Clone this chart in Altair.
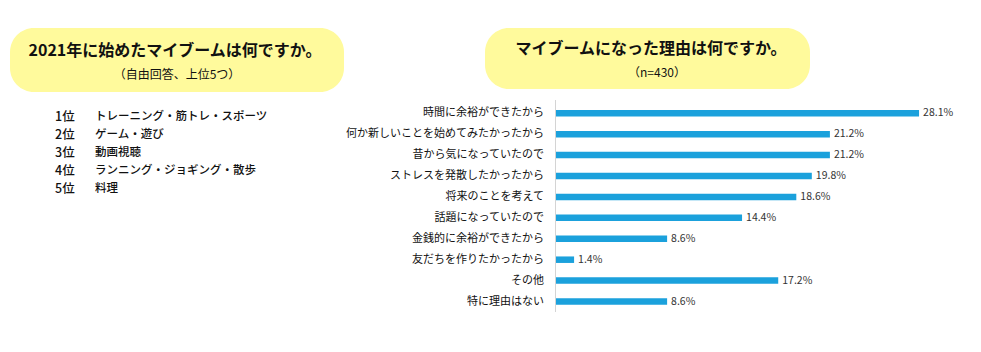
import altair as alt
import pandas as pd

FONT = "Noto Sans CJK JP"

# ---- data ----
title_left = "2021年に始めたマイブームは何ですか。"
sub_left = "（自由回答、上位5つ）"
title_right = "マイブームになった理由は何ですか。"
sub_right = "（n=430）"

ranks = ["1位", "2位", "3位", "4位", "5位"]
items = [
    "トレーニング・筋トレ・スポーツ",
    "ゲーム・遊び",
    "動画視聴",
    "ランニング・ジョギング・散歩",
    "料理",
]

reasons = [
    "時間に余裕ができたから",
    "何か新しいことを始めてみたかったから",
    "昔から気になっていたので",
    "ストレスを発散したかったから",
    "将来のことを考えて",
    "話題になっていたので",
    "金銭的に余裕ができたから",
    "友だちを作りたかったから",
    "その他",
    "特に理由はない",
]
percents = [28.1, 21.2, 21.2, 19.8, 18.6, 14.4, 8.6, 1.4, 17.2, 8.6]

rank_df = pd.DataFrame({"rank": ranks, "item": items})
bar_df = pd.DataFrame({"reason": reasons, "pct": percents})
bar_df["label"] = [f"{v:.1f}%" for v in percents]

one = alt.Data(values=[{}])
YELLOW = "#fffa9c"
TXT = "#111111"

# ---- decorative boxes & headings ----
box_left = alt.Chart(one).mark_rect(cornerRadius=24, color=YELLOW).encode(
    x=alt.value(10), x2=alt.value(344), y=alt.value(28), y2=alt.value(92)
)
box_right = alt.Chart(one).mark_rect(cornerRadius=24, color=YELLOW).encode(
    x=alt.value(485), x2=alt.value(810), y=alt.value(28), y2=alt.value(89)
)


def heading(txt, x, y, size, bold):
    return alt.Chart(one).mark_text(
        font=FONT, fontSize=size, fontWeight="bold" if bold else "normal",
        color=TXT, align="center", baseline="middle",
    ).encode(x=alt.value(x), y=alt.value(y), text=alt.value(txt))


h1 = heading(title_left, 175, 51, 16, True)
h1s = heading(sub_left, 177, 75, 12, False)
h2 = heading(title_right, 651, 49, 16, True)
h2s = heading(sub_right, 657, 73, 12, False)

# ---- ranking list ----
rank_y = alt.Y("rank:O", axis=None,
               scale=alt.Scale(type="point", range=[117, 189], padding=0))
rank_base = alt.Chart(rank_df)
rank_txt = rank_base.mark_text(
    font=FONT, fontSize=12.5, fontWeight=500, color=TXT, align="left", baseline="middle"
).encode(x=alt.value(55), y=rank_y, text="rank:N")
item_txt = rank_base.mark_text(
    font=FONT, fontSize=11.5, fontWeight=500, color=TXT, align="left", baseline="middle"
).encode(x=alt.value(95), y=rank_y, text="item:N")
ranking = alt.layer(rank_txt, item_txt)

# ---- bar chart ----
xs = alt.X("pct:Q", axis=None,
           scale=alt.Scale(domain=[0, 30], range=[556, 943.6], nice=False))
ys = alt.Y("reason:N", axis=None, sort=reasons,
           scale=alt.Scale(range=[102.8, 312.0], paddingInner=0, paddingOuter=0))

base = alt.Chart(bar_df)
axis_line = alt.Chart(one).mark_rule(color="#d4d4d4", strokeWidth=1).encode(
    x=alt.value(555.5), y=alt.value(100), y2=alt.value(312)
)
bars = base.mark_bar(color="#1ba1dc", size=6.5).encode(x=xs, y=ys)
vals = base.mark_text(
    font=FONT, fontSize=10.5, color="#333333", align="left", baseline="middle", dx=4
).encode(x=xs, y=ys, text="label:N")
cats = base.mark_text(
    font=FONT, fontSize=11, color=TXT, align="right", baseline="middle"
).encode(x=alt.value(544), y=ys, text="reason:N")
barchart = alt.layer(axis_line, bars, vals, cats)

chart = alt.layer(
    box_left, box_right, h1, h1s, h2, h2s, ranking, barchart
).resolve_scale(x="independent", y="independent").properties(
    width=981, height=352, padding=0, autosize=alt.AutoSizeParams(type="none"),
    background="white",
).configure_view(stroke=None)

chart.save("out.html", embed_options={"renderer": "svg", "actions": False})
